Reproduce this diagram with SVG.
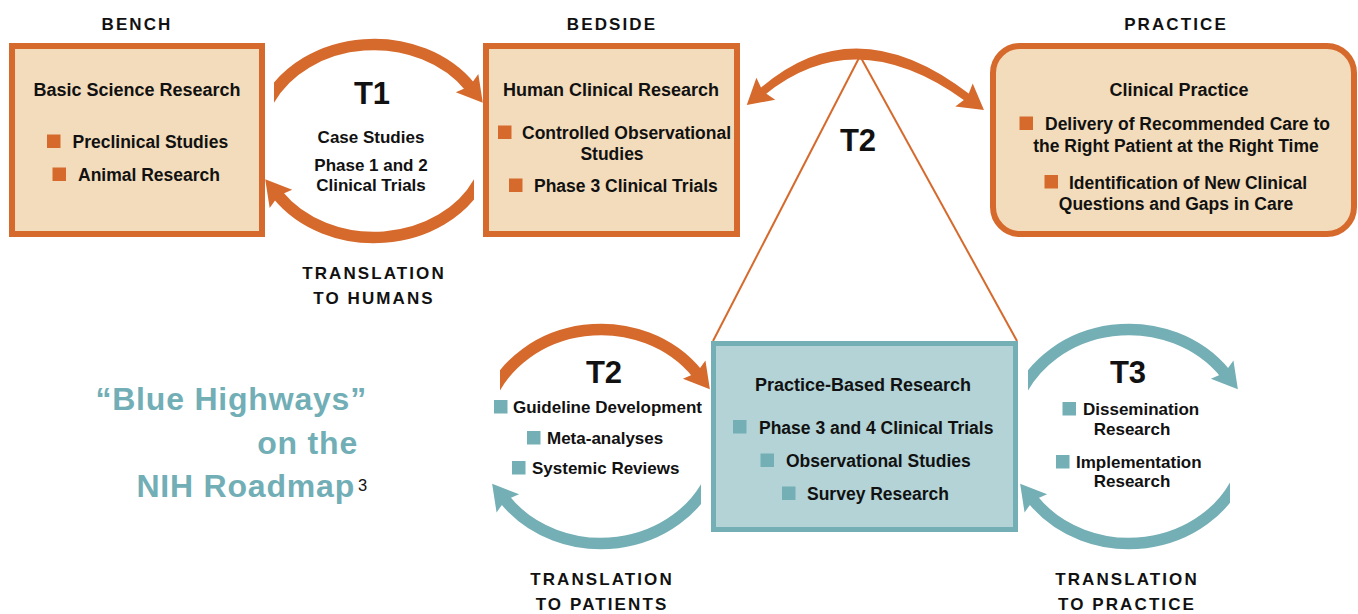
<svg xmlns="http://www.w3.org/2000/svg" xmlns:xlink="http://www.w3.org/1999/xlink" width="1358" height="614" viewBox="0 0 1358 614">
<style>
text{font-family:"Liberation Sans",Arial,sans-serif;font-weight:bold;fill:#111}
.hdr{font-size:17px;letter-spacing:2.1px;text-anchor:middle}
.ttl{font-size:18px;text-anchor:middle}
.txt{font-size:17.5px}
.sm{font-size:17px}
.mid{text-anchor:middle}
.big{font-size:31px;text-anchor:middle}
.bh{font-size:32px;letter-spacing:0.8px;fill:#72AEB6;text-anchor:end}
.sup{font-size:16.5px;font-weight:normal;fill:#111}
.boxo{fill:#F3DCBB;stroke:#D66A2C;stroke-width:6}
.boxt{fill:#B3D3D6;stroke:#74AFB6;stroke-width:5}
.sqo{fill:#D66A2C}
.sqt{fill:#74AFB6}
.arco{fill:none;stroke:#D66A2C;stroke-width:11.5}
.arct{fill:none;stroke:#74AFB6;stroke-width:11.5}
.thin{fill:none;stroke:#D66A2C;stroke-width:2}
</style>
<defs>
<path id="ah" d="M20,0 L-5,-14.5 L-1,0 L-5,14.5 Z"/>
<marker id="mo" markerUnits="userSpaceOnUse" orient="auto" overflow="visible" markerWidth="40" markerHeight="40" refX="0" refY="0"><use href="#ah" fill="#D66A2C"/></marker>
<marker id="mt" markerUnits="userSpaceOnUse" orient="auto" overflow="visible" markerWidth="40" markerHeight="40" refX="0" refY="0"><use href="#ah" fill="#74AFB6"/></marker>
<clipPath id="c1a"><rect x="274" y="0" width="300" height="300"/></clipPath>
<clipPath id="c1b"><rect x="0" y="0" width="474" height="300"/></clipPath>
<clipPath id="c2a"><rect x="500" y="300" width="300" height="314"/></clipPath>
<clipPath id="c2b"><rect x="400" y="300" width="301" height="314"/></clipPath>
<clipPath id="c3a"><rect x="1028" y="300" width="330" height="314"/></clipPath>
<clipPath id="c3b"><rect x="900" y="300" width="330" height="314"/></clipPath>
</defs>

<g id="headers">
<text class="hdr" x="137" y="30">BENCH</text>
<text class="hdr" x="612" y="30">BEDSIDE</text>
<text class="hdr" x="1176" y="30">PRACTICE</text>
<text class="hdr" x="374" y="279">TRANSLATION</text>
<text class="hdr" x="374" y="304">TO HUMANS</text>
<text class="hdr" x="602" y="585">TRANSLATION</text>
<text class="hdr" x="602" y="610">TO PATIENTS</text>
<text class="hdr" x="1127" y="585">TRANSLATION</text>
<text class="hdr" x="1127" y="610">TO PRACTICE</text>
</g>

<g id="connectors">
<line class="thin" x1="860" y1="56" x2="713" y2="341"/>
<line class="thin" x1="860" y1="56" x2="1017" y2="341"/>
<path class="arco" clip-path="url(#c1a)" marker-end="url(#mo)" d="M268,101.8 A116,96.5 0 0 1 470.2,87.1"/>
<path class="arco" clip-path="url(#c1b)" marker-end="url(#mo)" d="M480,180.2 A116,96.5 0 0 1 277.8,194.9"/>
<path d="M759.4,89 Q855,5 970.4,94.8 L965.6,101.2 Q855,21 764.6,95 Z" fill="#D66A2C"/>
<use href="#ah" fill="#D66A2C" transform="translate(762,92) rotate(139.6)"/>
<use href="#ah" fill="#D66A2C" transform="translate(968,98) rotate(36.95)"/>
<path class="arco" clip-path="url(#c2a)" marker-end="url(#mo)" d="M489,400.3 A119,107 0 0 1 697.3,373.6"/>
<path class="arct" clip-path="url(#c2b)" marker-end="url(#mt)" d="M713,472.7 A119,107 0 0 1 504.7,499.4"/>
<path class="arct" clip-path="url(#c3a)" marker-end="url(#mt)" d="M1017,400.3 A119,107 0 0 1 1225.3,373.6"/>
<path class="arct" clip-path="url(#c3b)" marker-end="url(#mt)" d="M1241,472.7 A119,107 0 0 1 1032.7,499.4"/>
</g>

<g id="bench">
<rect class="boxo" x="12" y="46" width="250" height="188"/>
<text class="ttl" x="137" y="96">Basic Science Research</text>
<rect class="sqo" x="47" y="134.5" width="13.5" height="13.5"/>
<text class="txt" x="72.5" y="148">Preclinical Studies</text>
<rect class="sqo" x="52.5" y="167.5" width="13.5" height="13.5"/>
<text class="txt" x="78" y="181">Animal Research</text>
</g>

<g id="t1">
<text class="big" x="372" y="104">T1</text>
<text class="sm mid" x="371" y="143">Case Studies</text>
<text class="sm mid" x="371" y="171">Phase 1 and 2</text>
<text class="sm mid" x="371" y="191">Clinical Trials</text>
</g>

<g id="bedside">
<rect class="boxo" x="486" y="46" width="251" height="188"/>
<text class="ttl" x="611" y="96">Human Clinical Research</text>
<rect class="sqo" x="498" y="125.5" width="13.5" height="13.5"/>
<text class="txt" x="522" y="139">Controlled Observational</text>
<text class="txt mid" x="612" y="160">Studies</text>
<rect class="sqo" x="509" y="178.5" width="13.5" height="13.5"/>
<text class="txt" x="534" y="192">Phase 3 Clinical Trials</text>
</g>

<g id="t2-top">
<text class="big" x="858" y="151">T2</text>
</g>

<g id="practice">
<rect class="boxo" x="993" y="46" width="361" height="188" rx="27"/>
<text class="ttl" x="1179" y="96">Clinical Practice</text>
<rect class="sqo" x="1019.5" y="116.5" width="13.5" height="13.5"/>
<text class="txt" x="1045" y="130">Delivery of Recommended Care to</text>
<text class="txt mid" x="1176" y="152">the Right Patient at the Right Time</text>
<rect class="sqo" x="1044.5" y="175" width="13.5" height="13.5"/>
<text class="txt" x="1069" y="188.5">Identification of New Clinical</text>
<text class="txt mid" x="1176" y="210">Questions and Gaps in Care</text>
</g>

<g id="practice-based">
<rect class="boxt" x="713.5" y="343.5" width="302" height="186"/>
<text class="ttl" x="863" y="391">Practice-Based Research</text>
<rect class="sqt" x="733" y="420" width="13.5" height="13.5"/>
<text class="txt" x="759" y="433.5">Phase 3 and 4 Clinical Trials</text>
<rect class="sqt" x="760.5" y="453.5" width="13.5" height="13.5"/>
<text class="txt" x="786" y="467">Observational Studies</text>
<rect class="sqt" x="782" y="486.5" width="13.5" height="13.5"/>
<text class="txt" x="807" y="500">Survey Research</text>
</g>

<g id="t2-lower">
<text class="big" x="604" y="383">T2</text>
<rect class="sqt" x="494" y="400" width="13.5" height="13.5"/>
<text class="sm" x="513" y="413">Guideline Development</text>
<rect class="sqt" x="527" y="431" width="13.5" height="13.5"/>
<text class="sm" x="547" y="444">Meta-analyses</text>
<rect class="sqt" x="512" y="461" width="13.5" height="13.5"/>
<text class="sm" x="532" y="474">Systemic Reviews</text>
</g>

<g id="t3">
<text class="big" x="1128" y="383">T3</text>
<rect class="sqt" x="1062.5" y="402" width="13.5" height="13.5"/>
<text class="sm" x="1083" y="415">Dissemination</text>
<text class="sm mid" x="1132" y="434.5">Research</text>
<rect class="sqt" x="1056" y="455" width="13.5" height="13.5"/>
<text class="sm" x="1076" y="468">Implementation</text>
<text class="sm mid" x="1132" y="487">Research</text>
</g>

<g id="blue-highways">
<text class="bh" x="367" y="410">“Blue Highways”</text>
<text class="bh" x="358" y="454">on the</text>
<text class="bh" x="355" y="497">NIH Roadmap</text>
<text class="sup" x="358" y="491">3</text>
</g>
</svg>
